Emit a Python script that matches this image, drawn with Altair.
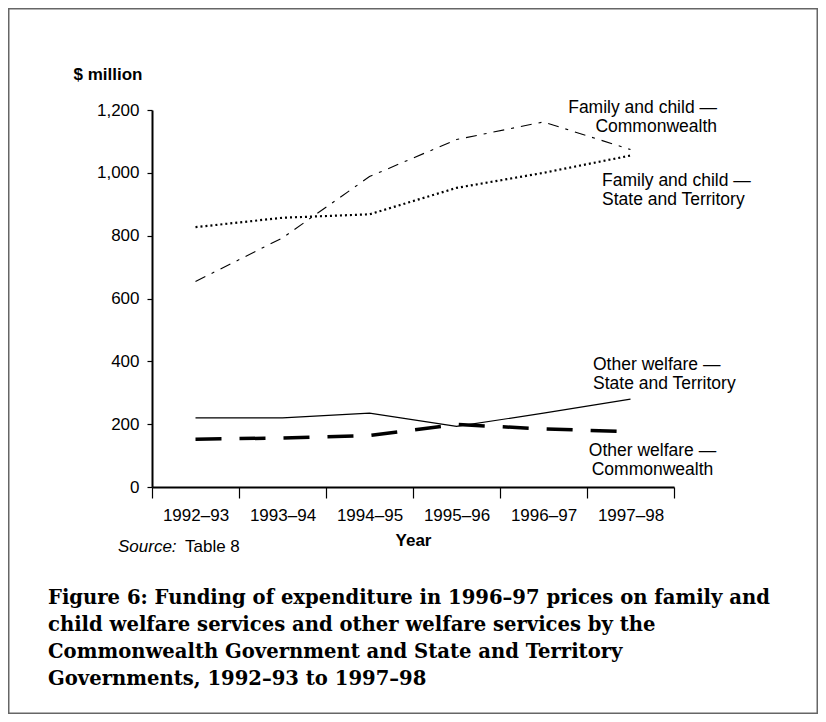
import altair as alt
import pandas as pd

# ---- data ----
years = ["1992–93", "1993–94", "1994–95", "1995–96", "1996–97", "1997–98"]
family_commonwealth = [654, 793, 988, 1106, 1162, 1074]
family_state = [827, 857, 868, 952, 1000, 1055]
other_state = [220, 220, 235, 193, 235, 280]
other_commonwealth = [152, 156, 164, 199, 185, 176]

series_names = [
    "Family and child — Commonwealth",
    "Family and child — State and Territory",
    "Other welfare — State and Territory",
    "Other welfare — Commonwealth",
]
series_values = [family_commonwealth, family_state, other_state, other_commonwealth]

y_ticks = [0, 200, 400, 600, 800, 1000, 1200]

label_family_cw = ["Family and child —", "Commonwealth"]
label_family_st = ["Family and child —", "State and Territory"]
label_other_st = ["Other welfare —", "State and Territory"]
label_other_cw = ["Other welfare —", "Commonwealth"]

caption_lines = [
    "Figure 6: Funding of expenditure in 1996–97 prices on family and",
    "child welfare services and other welfare services by the",
    "Commonwealth Government and State and Territory",
    "Governments, 1992–93 to 1997–98",
]

# ---- styling ----
W, H = 522, 377
PAD = {"left": 144, "top": 102, "right": 144, "bottom": 227}
SANS = "Liberation Sans"
SERIF = "DejaVu Serif"
FS = 17

styles = {
    series_names[0]: dict(strokeDash=[11, 7, 3, 7], strokeWidth=1.1),
    series_names[1]: dict(strokeDash=[2, 3], strokeWidth=2.2),
    series_names[2]: dict(strokeWidth=1.2),
    series_names[3]: dict(strokeDash=[26, 18], strokeWidth=3.5),
}

rows = []
for name, vals in zip(series_names, series_values):
    for yr, v in zip(years, vals):
        rows.append({"series": name, "year": yr, "value": v})
df = pd.DataFrame(rows)

x_enc = alt.X(
    "year:N",
    sort=years,
    bandPosition=0.5,
    scale=alt.Scale(type="band", domain=years, paddingInner=0, paddingOuter=0),
    axis=alt.Axis(
        title="Year",
        tickBand="extent",
        labelAngle=0,
        labelFont=SANS,
        labelFontSize=FS,
        labelColor="black",
        labelPadding=9,
        tickSize=11,
        tickColor="black",
        tickWidth=1.2,
        domainColor="black",
        domainWidth=2,
        grid=False,
        titleFont=SANS,
        titleFontSize=FS,
        titleFontWeight="bold",
        titleColor="black",
        titleX=W / 2,
        titleY=58,
        titleAlign="center",
        titleBaseline="alphabetic",
    ),
)
y_enc = alt.Y(
    "value:Q",
    scale=alt.Scale(domain=[0, 1200], nice=False),
    axis=alt.Axis(
        title="$ million",
        values=y_ticks,
        format=",.0f",
        labelFont=SANS,
        labelFontSize=FS,
        labelColor="black",
        labelPadding=8,
        tickSize=5,
        tickColor="black",
        tickWidth=1.2,
        domainColor="black",
        domainWidth=2,
        grid=False,
        titleFont=SANS,
        titleFontSize=FS,
        titleFontWeight="bold",
        titleColor="black",
        titleAngle=0,
        titleAlign="left",
        titleBaseline="alphabetic",
        titleX=-79,
        titleY=-31,
    ),
)

layers = []
for name in series_names:
    sub = df[df["series"] == name]
    layers.append(
        alt.Chart(sub)
        .mark_line(color="black", **styles[name])
        .encode(x=x_enc, y=y_enc)
    )

one = pd.DataFrame({"k": [0]})


def note(lines, x, y, align="left", **kw):
    return (
        alt.Chart(one)
        .mark_text(
            text=lines,
            align=align,
            baseline="alphabetic",
            font=kw.pop("font", SANS),
            fontSize=kw.pop("fontSize", 17.5),
            lineHeight=kw.pop("lineHeight", 19),
            color="black",
            **kw,
        )
        .encode(x=alt.value(x), y=alt.value(y))
    )


layers += [
    note(label_family_cw, 565, 3, align="right"),
    note(label_family_st, 450, 76),
    note(label_other_st, 441, 260),
    note(label_other_cw, 500.5, 346, align="center"),
    note("Source:", -34, 442, fontSize=FS, fontStyle="italic"),
    note("Table 8", 33, 442, fontSize=FS),
    note(caption_lines, -104, 494, font=SERIF, fontSize=19.6, fontWeight="bold", lineHeight=27),
]

frame = (
    alt.Chart(one)
    .mark_rect(filled=False, stroke="#666666", strokeWidth=1.5)
    .encode(
        x=alt.value(-PAD["left"] + 0.75),
        x2=alt.value(W + PAD["right"] - 0.75),
        y=alt.value(-PAD["top"] + 0.75),
        y2=alt.value(H + PAD["bottom"] - 0.75),
    )
)
layers.append(frame)

chart = (
    alt.layer(*layers)
    .properties(
        width=W,
        height=H,
        autosize=alt.AutoSizeParams(type="none"),
        padding=PAD,
        background="white",
    )
    .configure_view(stroke=None)
)

chart.save("out.html", embed_options={"renderer": "svg", "actions": False})
